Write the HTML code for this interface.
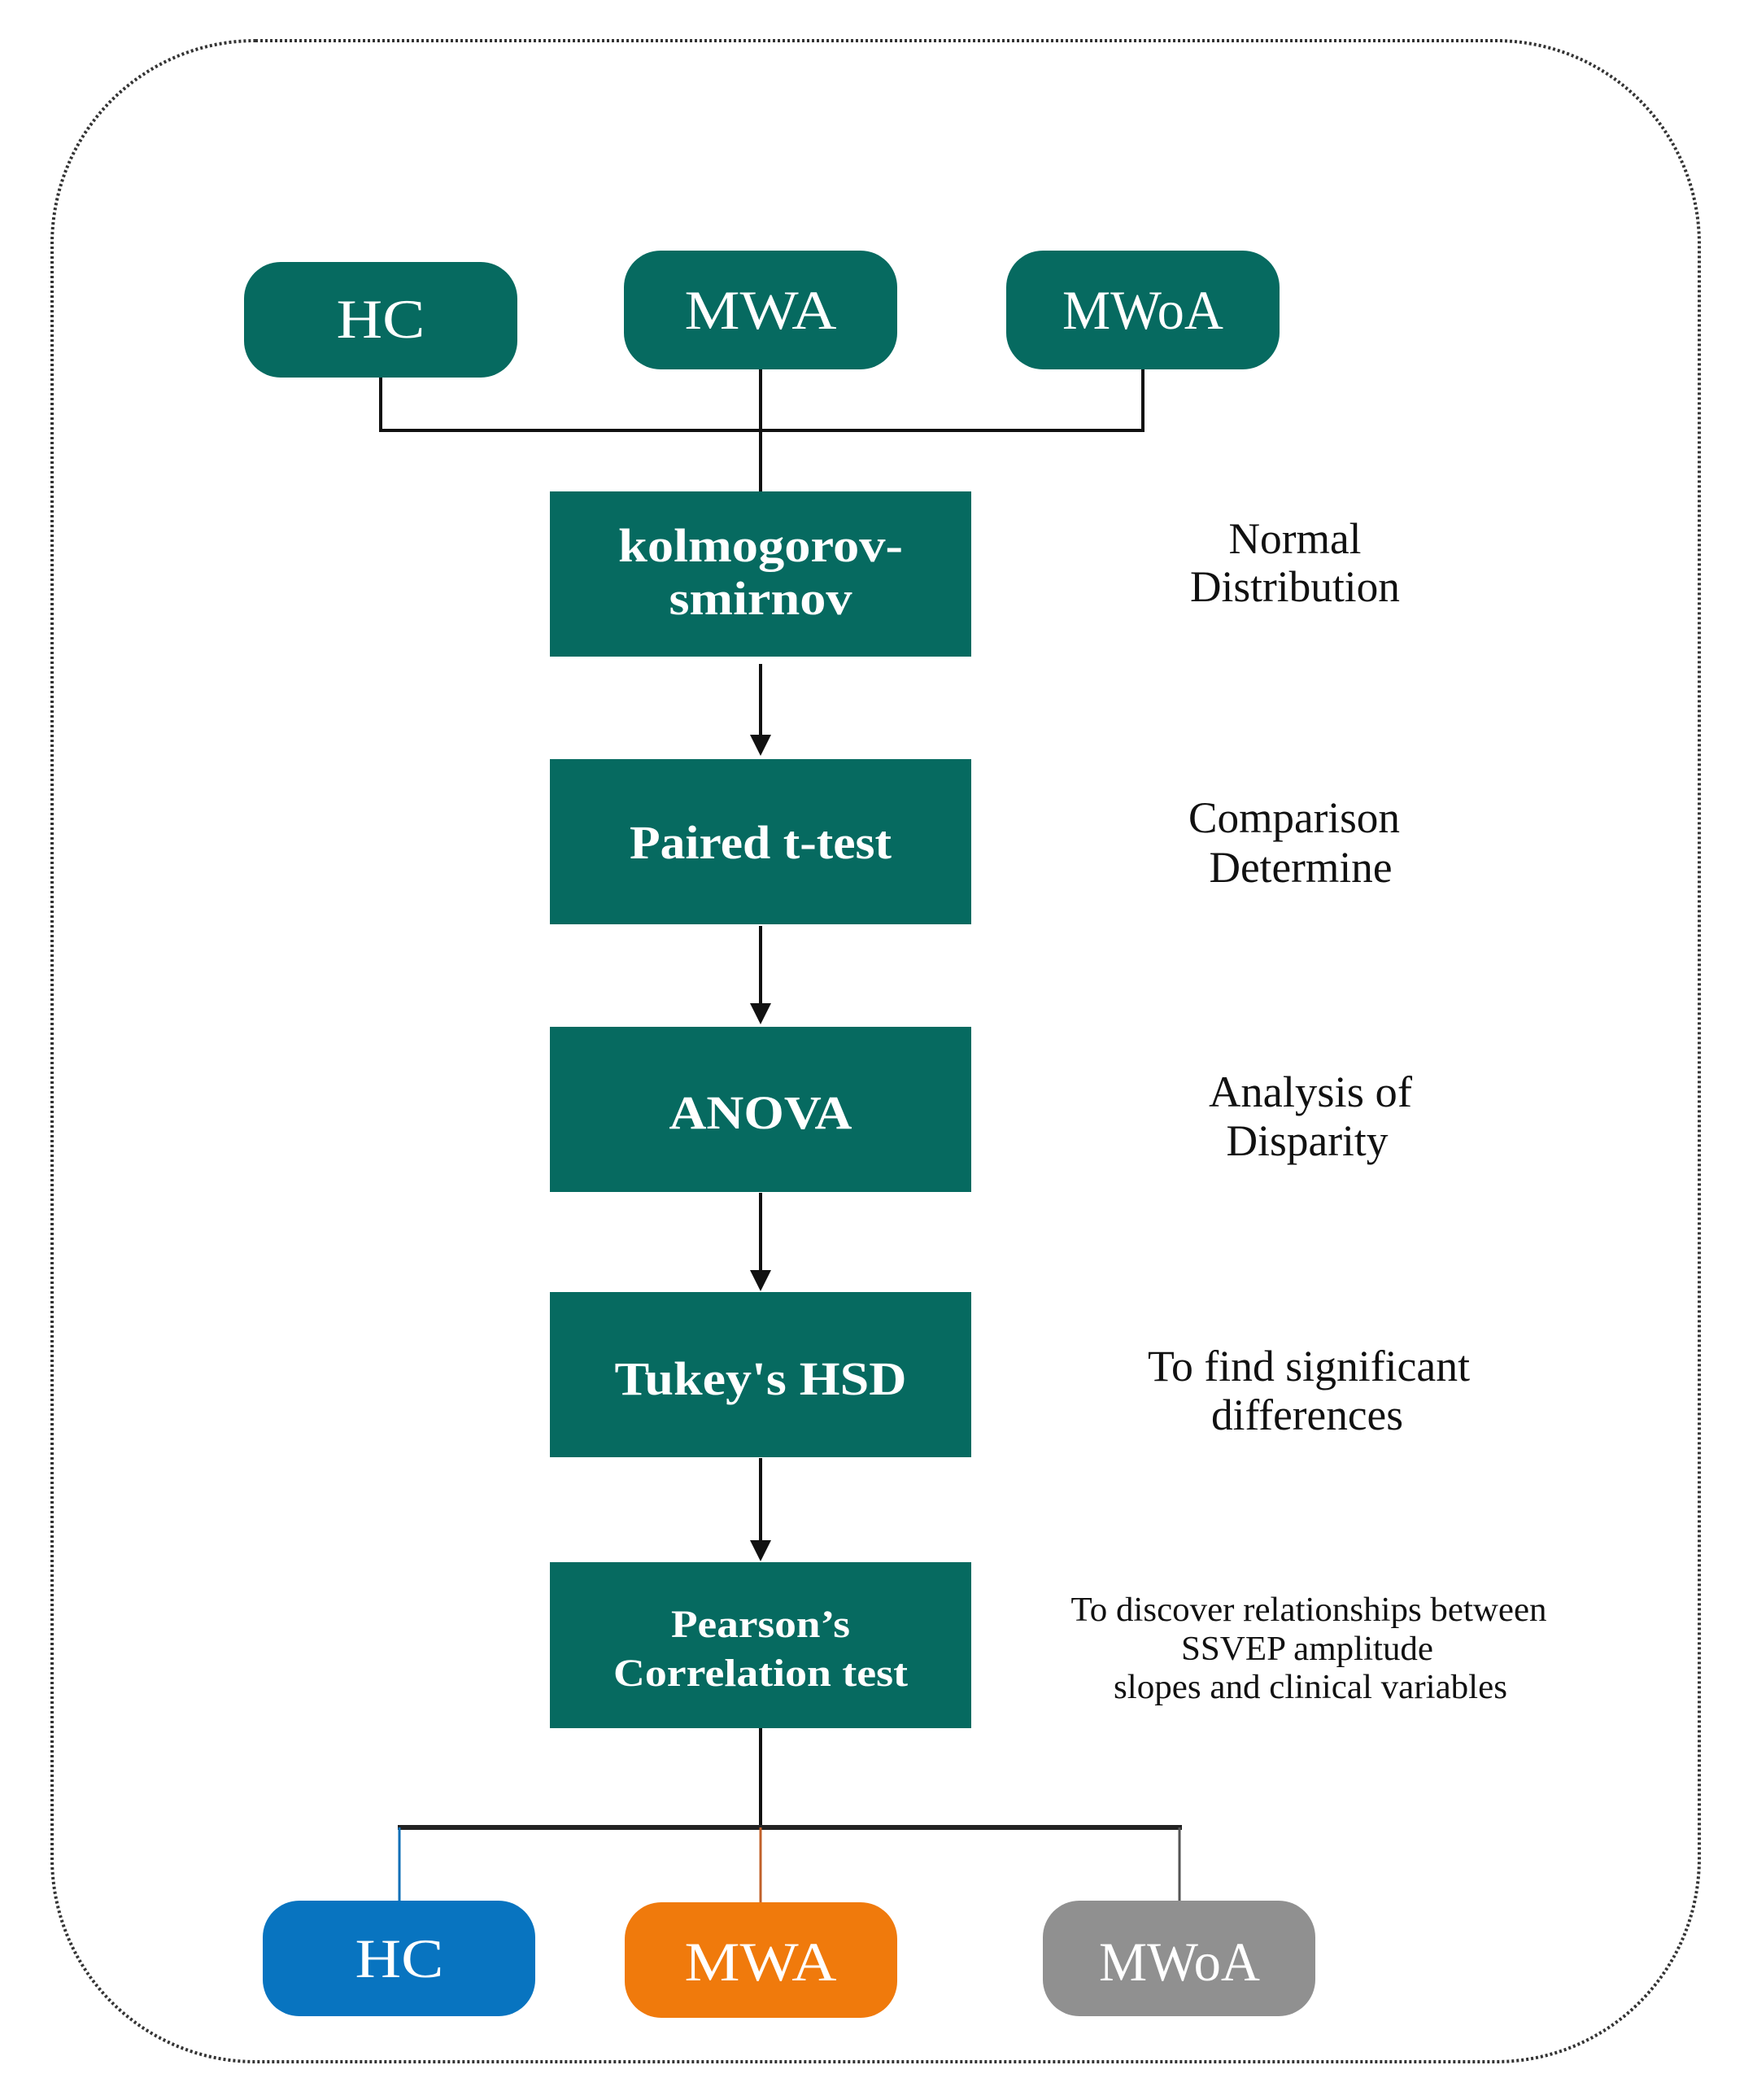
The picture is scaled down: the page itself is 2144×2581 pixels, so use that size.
<!DOCTYPE html>
<html><head><meta charset="utf-8"><style>
html,body{margin:0;padding:0;background:#fff;}
svg{display:block;}
</style></head><body>
<svg width="2144" height="2581" viewBox="0 0 2144 2581" xmlns="http://www.w3.org/2000/svg" font-family="'Liberation Serif', serif">
<defs>
<marker id="ah" markerWidth="10" markerHeight="10" refX="5" refY="5" orient="auto" markerUnits="userSpaceOnUse" viewBox="0 0 10 10">
</marker>
</defs>
<!-- dotted border -->
<rect x="64" y="50" width="2025" height="2484" rx="250" ry="250" fill="none" stroke="#333" stroke-width="4" stroke-dasharray="3 3"/>

<!-- top boxes -->
<g fill="#066a60">
<rect x="300" y="322" width="336" height="142" rx="45"/>
<rect x="767" y="308" width="336" height="146" rx="45"/>
<rect x="1237" y="308" width="336" height="146" rx="45"/>
</g>
<g fill="#fff" font-size="68" text-anchor="middle">
<text x="468" y="415" textLength="109" lengthAdjust="spacingAndGlyphs">HC</text>
<text x="935" y="404" textLength="187" lengthAdjust="spacingAndGlyphs">MWA</text>
<text x="1405" y="404" textLength="198" lengthAdjust="spacingAndGlyphs">MWoA</text>
</g>

<!-- connectors top -->
<g stroke="#111" stroke-width="4" fill="none">
<polyline points="468,464 468,529 1405,529 1405,454"/>
<line x1="935" y1="454" x2="935" y2="604"/>
<line x1="935" y1="816" x2="935" y2="905"/>
<line x1="935" y1="1138" x2="935" y2="1235"/>
<line x1="935" y1="1466" x2="935" y2="1563"/>
<line x1="935" y1="1792" x2="935" y2="1895"/>
<line x1="935" y1="2124" x2="935" y2="2246"/>
</g>
<g fill="#111">
<polygon points="922,903 948,903 935,929"/>
<polygon points="922,1233 948,1233 935,1259"/>
<polygon points="922,1561 948,1561 935,1587"/>
<polygon points="922,1893 948,1893 935,1919"/>
</g>

<!-- main boxes -->
<g fill="#066a60">
<rect x="676" y="604" width="518" height="203"/>
<rect x="676" y="933" width="518" height="203"/>
<rect x="676" y="1262" width="518" height="203"/>
<rect x="676" y="1588" width="518" height="203"/>
<rect x="676" y="1920" width="518" height="204"/>
</g>
<g fill="#fff" font-weight="bold" text-anchor="middle">
<text x="935" y="690" font-size="58" textLength="350" lengthAdjust="spacingAndGlyphs">kolmogorov-</text>
<text x="935" y="755" font-size="58" textLength="225" lengthAdjust="spacingAndGlyphs">smirnov</text>
<text x="935" y="1055" font-size="58" textLength="322" lengthAdjust="spacingAndGlyphs">Paired t-test</text>
<text x="935" y="1387" font-size="58" textLength="225" lengthAdjust="spacingAndGlyphs">ANOVA</text>
<text x="935" y="1714" font-size="58" textLength="359" lengthAdjust="spacingAndGlyphs">Tukey's HSD</text>
<text x="935" y="2012" font-size="48" textLength="220" lengthAdjust="spacingAndGlyphs">Pearson’s</text>
<text x="935" y="2072" font-size="48" textLength="362" lengthAdjust="spacingAndGlyphs">Correlation test</text>
</g>

<!-- side labels -->
<g fill="#111" text-anchor="middle" font-size="54">
<text x="1592" y="680" textLength="163" lengthAdjust="spacingAndGlyphs">Normal</text>
<text x="1592" y="739" textLength="258" lengthAdjust="spacingAndGlyphs">Distribution</text>
<text x="1591" y="1023" textLength="260" lengthAdjust="spacingAndGlyphs">Comparison</text>
<text x="1599" y="1084" textLength="225" lengthAdjust="spacingAndGlyphs">Determine</text>
<text x="1611" y="1360" textLength="250" lengthAdjust="spacingAndGlyphs">Analysis of</text>
<text x="1607" y="1420" textLength="199" lengthAdjust="spacingAndGlyphs">Disparity</text>
<text x="1609" y="1697" textLength="396" lengthAdjust="spacingAndGlyphs">To find significant</text>
<text x="1607" y="1757" textLength="236" lengthAdjust="spacingAndGlyphs">differences</text>
</g>
<g fill="#111" text-anchor="middle" font-size="42">
<text x="1609" y="1992" textLength="585" lengthAdjust="spacingAndGlyphs">To discover relationships between</text>
<text x="1607" y="2040" textLength="310" lengthAdjust="spacingAndGlyphs">SSVEP amplitude</text>
<text x="1611" y="2087" textLength="484" lengthAdjust="spacingAndGlyphs">slopes and clinical variables</text>
</g>

<!-- bottom connectors -->
<line x1="489" y1="2246" x2="1453" y2="2246" stroke="#222" stroke-width="6"/>
<line x1="491" y1="2246" x2="491" y2="2338" stroke="#1070b8" stroke-width="3"/>
<line x1="935" y1="2246" x2="935" y2="2340" stroke="#c0602a" stroke-width="3"/>
<line x1="1450" y1="2246" x2="1450" y2="2338" stroke="#555" stroke-width="3"/>

<!-- bottom boxes -->
<rect x="323" y="2336" width="335" height="142" rx="45" fill="#0874c0"/>
<rect x="768" y="2338" width="335" height="142" rx="45" fill="#f07a0c"/>
<rect x="1282" y="2336" width="335" height="142" rx="45" fill="#909090"/>
<g fill="#fff" font-size="68" text-anchor="middle">
<text x="491" y="2430" textLength="109" lengthAdjust="spacingAndGlyphs">HC</text>
<text x="935" y="2434" textLength="187" lengthAdjust="spacingAndGlyphs">MWA</text>
<text x="1450" y="2434" textLength="198" lengthAdjust="spacingAndGlyphs">MWoA</text>
</g>
</svg>
</body></html>
